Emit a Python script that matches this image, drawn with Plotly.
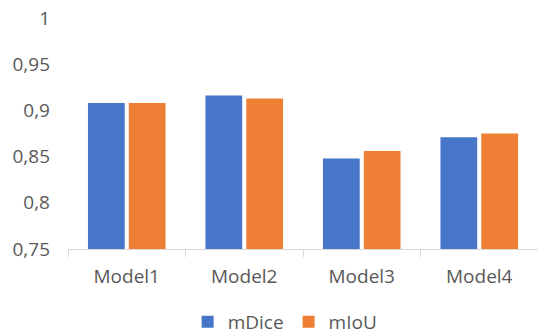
import plotly.graph_objects as go

categories = ["Model1", "Model2", "Model3", "Model4"]
mdice = [0.908, 0.916, 0.848, 0.871]
miou = [0.908, 0.913, 0.856, 0.875]
y_ticks = [0.75, 0.8, 0.85, 0.9, 0.95, 1.0]

font_family = "Open Sans, Noto Sans, sans-serif"
text_color = "#595959"

fig = go.Figure()
fig.add_trace(go.Bar(name="mDice", x=categories, y=mdice, marker=dict(color="#4775C8", line=dict(width=0))))
fig.add_trace(go.Bar(name="mIoU", x=categories, y=miou, marker=dict(color="#EE7F35", line=dict(width=0))))

fig.update_layout(
    width=538, height=335,
    margin=dict(l=68, r=0, t=18, b=86),
    paper_bgcolor="white", plot_bgcolor="white",
    barmode="group", bargap=0.305, bargroupgap=0.1,
    separators=", ",
    font=dict(family=font_family, size=19, color=text_color),
    showlegend=True,
    legend=dict(orientation="h", x=0.53, xanchor="center", xref="container",
                y=1 - 322 / 335, yanchor="middle", yref="container",
                font=dict(size=19, color=text_color), itemwidth=30),
    xaxis=dict(showline=True, linecolor="#D9D9D9", linewidth=1,
               ticks="outside", tickson="boundaries", ticklen=7, tickcolor="#D9D9D9",
               ticklabelstandoff=10,
               showgrid=False, tickfont=dict(size=19, color=text_color)),
    yaxis=dict(range=[0.75, 1.0], tickvals=y_ticks, showgrid=False, zeroline=False,
               showline=False, ticks="", ticklabelstandoff=17,
               tickfont=dict(size=19, color=text_color)),
)

fig.write_html("out.html")
